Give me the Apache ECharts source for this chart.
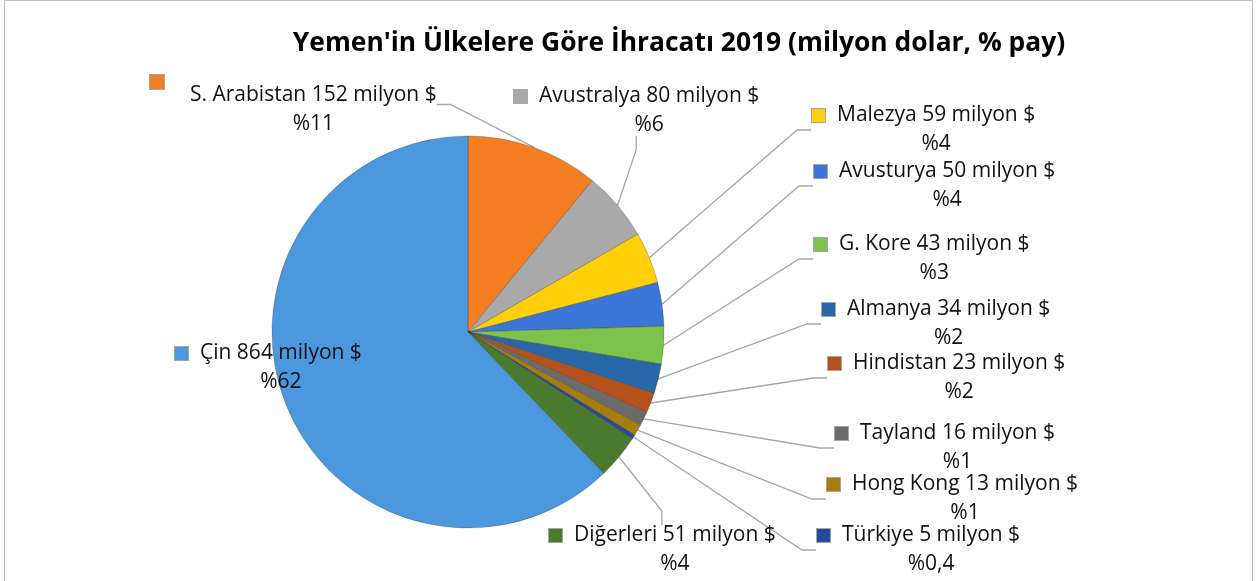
<!DOCTYPE html>
<html>
<head>
<meta charset="utf-8">
<title>Yemen ihracat 2019</title>
<script src="https://cdn.jsdelivr.net/npm/echarts@6/dist/echarts.min.js"></script>
<style>
  html, body { margin: 0; padding: 0; background: #fff; }
  #frame { position: absolute; left: 4px; top: 0; width: 1247px; height: 600px; border: 1px solid #bdbdbd; }
  #main { position: absolute; left: 0; top: 0; width: 1258px; height: 581px; }
</style>
</head>
<body>
<div id="frame"></div>
<div id="main"></div>
<script>
// clockwise from 12 o'clock
var countries = ['S. Arabistan', 'Avustralya', 'Malezya', 'Avusturya', 'G. Kore', 'Almanya',
                 'Hindistan', 'Tayland', 'Hong Kong', 'Türkiye', 'Diğerleri', 'Çin'];
var exports = [152, 80, 59, 50, 43, 34, 23, 16, 13, 5, 51, 864];
var shares = ['11', '6', '4', '4', '3', '2', '2', '1', '1', '0,4', '4', '62'];

var colors = ['#F57E22', '#A9A9A9', '#FFCF0A', '#3A77D6', '#7DC24B', '#2868A8',
              '#B4511B', '#6B6B6B', '#A77D0C', '#28489A', '#497A2D', '#4B98DE'];
// label block: left x, top y
var labelPos = [[150, 75], [514, 82], [812, 101], [814, 157], [814, 230], [822, 295],
                [828, 349], [835, 419], [827, 470], [817, 521], [549, 521], [175, 339]];

var chart = echarts.init(document.getElementById('main'));

var txt = { fontFamily: 'Open Sans', fontSize: 21, color: '#111', align: 'center', lineHeight: 29 };

var data = countries.map(function (name, i) {
  var rich = {
    sq: { width: 13, height: 13, backgroundColor: colors[i], borderColor: 'rgba(0,0,0,0.35)', borderWidth: 1, align: 'center' },
    gap: { width: 12, align: 'center' },
    sp: { width: 25, align: 'center' },
    t: txt
  };
  var fmt = '{sq|}{gap|}{t|' + name + ' ' + exports[i] + ' milyon $}\n{sp|}{t|%' + shares[i] + '}';
  if (i === 0) {
    rich.sq = { width: 14, height: 14, backgroundColor: colors[i], borderColor: 'rgba(0,0,0,0.35)', borderWidth: 1,
                align: 'left', verticalAlign: 'top', lineHeight: 6 };
    rich.sp = { width: 40, align: 'center' };
    fmt = '{sq|}\n{sp|}{t|' + name + ' ' + exports[i] + ' milyon $}\n{sp|}{t|%' + shares[i] + '}';
  }
  return {
    name: name,
    value: exports[i],
    itemStyle: { color: colors[i] },
    label: { formatter: fmt, rich: rich },
    labelLine: { show: i !== 11 }
  };
});

chart.setOption({
  animation: false,
  title: {
    text: "Yemen'in Ülkelere Göre İhracatı 2019 (milyon dolar, % pay)",
    left: 674,
    top: 25,
    textAlign: 'center',
    textStyle: { fontFamily: 'Open Sans', fontWeight: 'bold', fontSize: 26.4, color: '#000' }
  },
  series: [{
    type: 'pie',
    center: [468, 332],
    radius: 196,
    startAngle: 90,
    clockwise: true,
    data: data,
    itemStyle: { borderColor: 'rgba(40,40,40,0.35)', borderWidth: 0.8 },
    label: { show: true, position: 'outer', align: 'center' },
    labelLine: { show: true, length: 20, length2: 14, lineStyle: { color: '#A6A6A6', width: 1.3 } },
    labelLayout: function (p) {
      var pos = labelPos[p.dataIndex];
      return { x: pos[0], y: pos[1], align: 'left', verticalAlign: 'top' };
    }
  }]
});
</script>
</body>
</html>
